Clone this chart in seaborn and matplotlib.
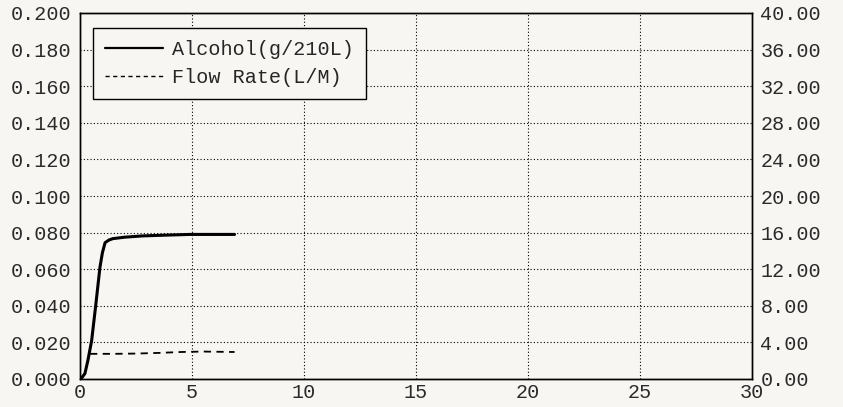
import numpy as np
import matplotlib
matplotlib.use('Agg')
import matplotlib.pyplot as plt
import pandas as pd
import seaborn as sns
from matplotlib.ticker import FormatStrFormatter
from matplotlib.lines import Line2D

# values
time_alc = [0.0, 0.1, 0.22, 0.35, 0.52, 0.7, 0.89, 1.0, 1.12, 1.3, 1.47, 2.0, 2.8, 3.8, 4.9, 6.0, 6.9]
alcohol = [0.0, 0.001, 0.003, 0.010, 0.021, 0.040, 0.061, 0.069, 0.0745, 0.0760, 0.0767, 0.0775, 0.0782, 0.0786, 0.0790, 0.0790, 0.0790]
time_flow = [0.45, 1.5, 2.5, 3.5, 4.5, 5.5, 6.9]
flow = [2.75, 2.75, 2.78, 2.85, 2.95, 3.0, 2.95]

df_alc = pd.DataFrame({'t': time_alc, 'alc': alcohol})
df_flow = pd.DataFrame({'t': time_flow, 'flow': flow})

sns.set_style('white')
plt.rcParams['font.family'] = ['Liberation Mono', 'DejaVu Sans Mono']
bg = '#f7f6f2'
fs = 14.5

fig = plt.figure(figsize=(8.43, 4.07), dpi=100, facecolor=bg)
ax = fig.add_axes([80/843, 1-379/407, 672/843, 366/407])
ax.set_facecolor(bg)
ax2 = ax.twinx()

sns.lineplot(data=df_alc, x='t', y='alc', ax=ax, color='black', lw=2.2, legend=False)
sns.lineplot(data=df_flow, x='t', y='flow', ax=ax2, color='black', lw=1.3,
             linestyle=(0, (4, 3)), legend=False)

ax.set_xlim(0, 30)
ax.set_ylim(0, 0.2)
ax2.set_ylim(0, 40)
ax.set_xticks(np.arange(0, 31, 5))
ax.set_yticks(np.arange(0, 0.2001, 0.02))
ax2.set_yticks(np.arange(0, 40.01, 4))
ax.yaxis.set_major_formatter(FormatStrFormatter('%.3f'))
ax2.yaxis.set_major_formatter(FormatStrFormatter('%.2f'))
ax.set_xlabel('')
ax.set_ylabel('')
ax2.set_ylabel('')

ax.grid(True, color='black', linestyle=(0, (1, 2)), lw=0.8)
for a in (ax, ax2):
    a.tick_params(axis='y', length=0, labelsize=fs, colors='#2a2a2a', pad=6)
    a.tick_params(axis='x', length=0, labelsize=fs, colors='#2a2a2a', pad=3)
    for s in a.spines.values():
        s.set_color('black')
        s.set_linewidth(1.0)

handles = [Line2D([], [], color='black', lw=1.6),
           Line2D([], [], color='black', lw=1.0, linestyle=(0, (3, 2.5)))]
leg = ax.legend(handles, ['Alcohol(g/210L)', 'Flow Rate(L/M)'], loc='upper left',
                bbox_to_anchor=(0.019, 0.96), fontsize=fs, frameon=True,
                fancybox=False, edgecolor='black', facecolor=bg, framealpha=1,
                handlelength=2.9, handletextpad=0.45, borderpad=0.6, labelspacing=0.45,
                borderaxespad=0)
leg.get_frame().set_linewidth(1.0)

fig.savefig('out.png', dpi=100, facecolor=bg)
